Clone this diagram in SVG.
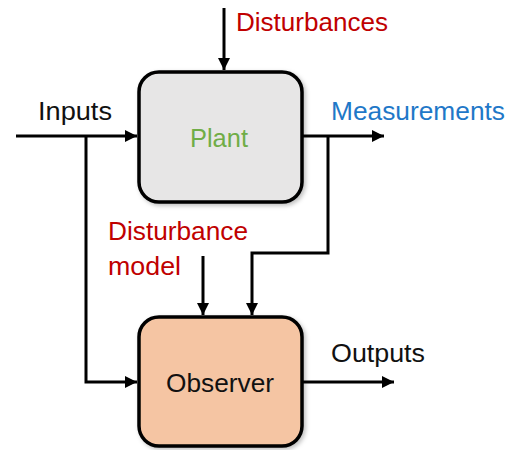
<svg xmlns="http://www.w3.org/2000/svg" width="513" height="450" viewBox="0 0 513 450">
  <style>
    .lbl { font-family: "Liberation Sans", Arial, sans-serif; font-size: 26px; }
    .box { stroke: #000; stroke-width: 3.5; }
    .wire { fill: none; stroke: #000; stroke-width: 3; stroke-linejoin: miter; }
    .red { fill: #c00000; }
    .blue { fill: #1f78c8; }
    .black { fill: #111; }
  </style>
  <defs>
    <marker id="arrow" viewBox="0 0 12 12" refX="12" refY="6" markerWidth="12" markerHeight="12" markerUnits="userSpaceOnUse" orient="auto">
      <path d="M0,0 L12,6 L0,12 z" fill="#000"/>
    </marker>
    <filter id="shadow" x="-10%" y="-10%" width="125%" height="125%">
      <feDropShadow dx="2" dy="2" stdDeviation="2" flood-color="#000" flood-opacity="0.25"/>
    </filter>
  </defs>

  <g id="connectors">
    <!-- disturbances into plant -->
    <path class="wire" d="M224,8 V70" marker-end="url(#arrow)"/>
    <!-- inputs into plant, with branch down to observer -->
    <path class="wire" d="M16,136 H137" marker-end="url(#arrow)"/>
    <path class="wire" d="M86,136 V382 H137" marker-end="url(#arrow)"/>
    <!-- measurements out of plant, with branch down to observer -->
    <path class="wire" d="M302,136 H384" marker-end="url(#arrow)"/>
    <path class="wire" d="M328,136 V253 H252 V315" marker-end="url(#arrow)"/>
    <!-- disturbance model into observer -->
    <path class="wire" d="M203,256 V315" marker-end="url(#arrow)"/>
    <!-- observer outputs -->
    <path class="wire" d="M302,382 H394" marker-end="url(#arrow)"/>
  </g>

  <g id="plant">
    <rect class="box" x="139" y="72" width="163" height="130" rx="20" ry="20" fill="#e7e6e6" filter="url(#shadow)"/>
    <text class="lbl" x="219" y="147" text-anchor="middle" fill="#70ad47" textLength="58" lengthAdjust="spacingAndGlyphs">Plant</text>
  </g>

  <g id="observer">
    <rect class="box" x="139" y="317" width="163" height="129" rx="20" ry="20" fill="#f5c5a3" filter="url(#shadow)"/>
    <text class="lbl black" x="220" y="392" text-anchor="middle" textLength="108" lengthAdjust="spacingAndGlyphs">Observer</text>
  </g>

  <g id="labels">
    <text class="lbl red" x="236" y="31" textLength="152" lengthAdjust="spacingAndGlyphs">Disturbances</text>
    <text class="lbl black" x="38" y="120" textLength="74" lengthAdjust="spacingAndGlyphs">Inputs</text>
    <text class="lbl blue" x="331" y="120" textLength="174" lengthAdjust="spacingAndGlyphs">Measurements</text>
    <text class="lbl red" x="108" y="240" textLength="140" lengthAdjust="spacingAndGlyphs">Disturbance</text>
    <text class="lbl red" x="108" y="275" textLength="73" lengthAdjust="spacingAndGlyphs">model</text>
    <text class="lbl black" x="331" y="362" textLength="94" lengthAdjust="spacingAndGlyphs">Outputs</text>
  </g>
</svg>
